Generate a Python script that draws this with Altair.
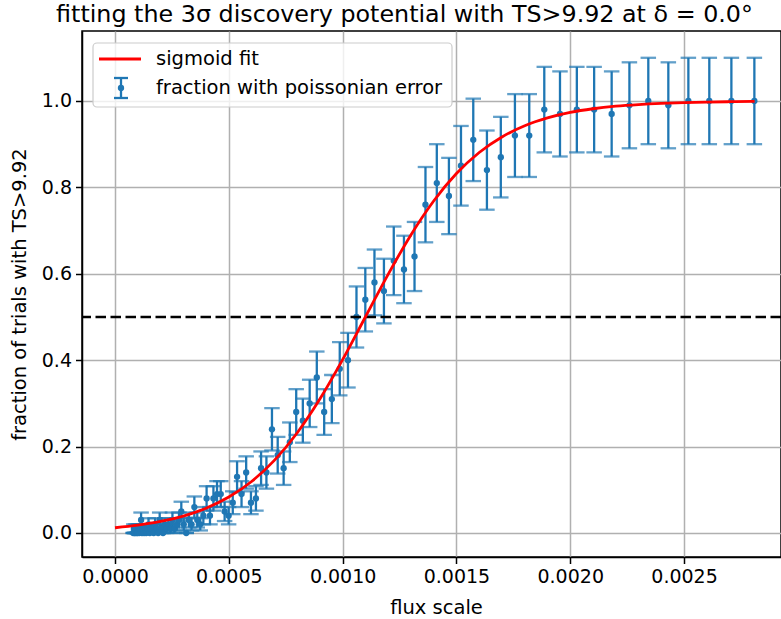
import altair as alt
import pandas as pd
import numpy as np

# ---------------- data ----------------
flux = [0.0000800, 0.0000829, 0.0000860, 0.0000891, 0.0000924, 0.0000957, 0.0000992, 0.0001029, 0.0001066, 0.0001105,
        0.0001146, 0.0001187, 0.0001231, 0.0001276, 0.0001322, 0.0001371, 0.0001421, 0.0001473, 0.0001527, 0.0001582,
        0.0001640, 0.0001700, 0.0001762, 0.0001827, 0.0001894, 0.0001963, 0.0002035, 0.0002109, 0.0002186, 0.0002266,
        0.0002349, 0.0002435, 0.0002524, 0.0002616, 0.0002711, 0.0002811, 0.0002913, 0.0003020, 0.0003130, 0.0003245,
        0.0003363, 0.0003486, 0.0003614, 0.0003746, 0.0003882, 0.0004024, 0.0004172, 0.0004324, 0.0004482, 0.0004646,
        0.0004816, 0.0004992, 0.0005174, 0.0005363, 0.0005559, 0.0005763, 0.0005973, 0.0006192, 0.0006418, 0.0006652,
        0.0006896, 0.0007148, 0.0007409, 0.0007680, 0.0007961, 0.0008252, 0.0008553, 0.0008866, 0.0009190, 0.0009526,
        0.0009874, 0.0010235, 0.0010609, 0.0010997, 0.0011399, 0.0011815, 0.0012247, 0.0012695, 0.0013159, 0.0013640,
        0.0014138, 0.0014670, 0.0015200, 0.0015740, 0.0016340, 0.0016950, 0.0017570, 0.0018200, 0.0018860, 0.0019550,
        0.0020290, 0.0021050, 0.0021820, 0.0022600, 0.0023430, 0.0024310, 0.0025190, 0.0026110, 0.0027080, 0.0028090]

frac = [0.00, 0.01, 0.00, 0.00, 0.01, 0.00, 0.00, 0.01, 0.00, 0.01,
        0.03, 0.00, 0.01, 0.00, 0.01, 0.00, 0.01, 0.02, 0.00, 0.01,
        0.01, 0.00, 0.02, 0.01, 0.00, 0.03, 0.01, 0.00, 0.02, 0.01,
        0.02, 0.01, 0.03, 0.01, 0.02, 0.03, 0.05, 0.02, 0.00, 0.03,
        0.02, 0.06, 0.03, 0.02, 0.04, 0.08, 0.04, 0.08, 0.09, 0.09,
        0.05, 0.04, 0.07, 0.13, 0.09, 0.14, 0.07, 0.08, 0.15, 0.14,
        0.24, 0.18, 0.15, 0.21, 0.28, 0.26, 0.30, 0.36, 0.28, 0.31,
        0.38, 0.40, 0.50, 0.54, 0.58, 0.56, 0.63, 0.61, 0.64, 0.76,
        0.81, 0.78, 0.85, 0.91, 0.84, 0.87, 0.92, 0.92, 0.98, 0.97,
        0.98, 0.98, 0.97, 0.99, 1.00, 0.99, 1.00, 1.00, 1.00, 1.00]

N_TRIALS = 100  # poissonian error = sqrt(n) / N

fit_x = [0.0000, 0.0001, 0.0002, 0.0003, 0.0004, 0.0005, 0.0006, 0.0007, 0.0008, 0.0009,
         0.0010, 0.0011, 0.0012, 0.0013, 0.0014, 0.0015, 0.0016, 0.0017, 0.0018, 0.0019,
         0.0020, 0.0021, 0.0022, 0.0023, 0.0024, 0.0025, 0.0026, 0.0027, 0.0028, 0.00281]
fit_y = [0.0121, 0.0180, 0.0266, 0.0392, 0.0573, 0.0832, 0.1192, 0.1680, 0.2315, 0.3100,
         0.4013, 0.5000, 0.5987, 0.6900, 0.7685, 0.8320, 0.8808, 0.9168, 0.9427, 0.9608,
         0.9734, 0.9820, 0.9879, 0.9918, 0.9945, 0.9963, 0.9975, 0.9983, 0.9989, 0.9989]

threshold = [0.5]

title_text = "fitting the 3σ discovery potential with TS>9.92 at δ = 0.0°"
x_title = "flux scale"
y_title = "fraction of trials with TS>9.92"
legend_labels = ["sigmoid fit", "fraction with poissonian error"]
x_ticks = [0.0, 0.0005, 0.0010, 0.0015, 0.0020, 0.0025]
y_ticks = [0.0, 0.2, 0.4, 0.6, 0.8, 1.0]

# ---------------- build ----------------
df = pd.DataFrame({"flux": flux, "frac": frac})
df["err"] = np.sqrt(df["frac"] * N_TRIALS) / N_TRIALS
df["lo"] = df["frac"] - df["err"]
df["hi"] = df["frac"] + df["err"]
fit_df = pd.DataFrame({"x": fit_x, "y": fit_y})
one = pd.DataFrame({"a": [0]})

BLUE = "#1f77b4"
RED = "#ff0000"
FONT = "DejaVu Sans"
FS = 19.5
EW = 2.3     # error bar line width
W, H = 699, 526
xs = alt.Scale(domain=[-0.000145, 0.002926], nice=False, zero=False)
ys = alt.Scale(domain=[-0.0556, 1.162], nice=False, zero=False)

x_axis = alt.Axis(values=x_ticks, format=".4f", title=x_title, grid=True,
                  titleX=354, titleY=50, titleBaseline="middle")
y_axis = alt.Axis(values=y_ticks, format=".1f", title=y_title, grid=True,
                  titleX=-63, titleY=H / 2, titleBaseline="middle", titleAngle=270)


def X(field):
    return alt.X(field, type="quantitative", scale=xs, axis=x_axis)


def Y(field):
    return alt.Y(field, type="quantitative", scale=ys, axis=y_axis)


bars = alt.Chart(df).mark_rule(color=BLUE, strokeWidth=EW).encode(
    x=X("flux"), y=Y("lo"), y2="hi:Q",
)
caps_lo = alt.Chart(df).mark_tick(color=BLUE, orient="horizontal", size=15.5, thickness=EW).encode(
    x=X("flux"), y=Y("lo"),
)
caps_hi = alt.Chart(df).mark_tick(color=BLUE, orient="horizontal", size=15.5, thickness=EW).encode(
    x=X("flux"), y=Y("hi"),
)
points = alt.Chart(df).mark_circle(color=BLUE, size=40, opacity=1).encode(
    x=X("flux"), y=Y("frac"),
)
dashed = alt.Chart(pd.DataFrame({"t": threshold})).mark_rule(
    color="black", strokeWidth=2.5, strokeDash=[10.5, 4.5]
).encode(y=Y("t"))

fit_line = alt.Chart(fit_df).mark_line(color=RED, strokeWidth=2.8, interpolate="monotone").encode(
    x=X("x"), y=Y("y"),
)

# ---------------- legend (drawn in pixel space) ----------------
leg_box = alt.Chart(one).mark_rect(
    fill="white", fillOpacity=0.8, stroke="#cccccc", strokeWidth=1.2, cornerRadius=4
).encode(x=alt.value(11), x2=alt.value(370), y=alt.value(12), y2=alt.value(76))
leg_line = alt.Chart(one).mark_rule(color=RED, strokeWidth=2.8).encode(
    x=alt.value(17), x2=alt.value(59), y=alt.value(28))
leg_txt1 = alt.Chart(one).mark_text(
    align="left", baseline="middle", font=FONT, fontSize=FS, color="black"
).encode(x=alt.value(74), y=alt.value(28), text=alt.value(legend_labels[0]))
leg_bar = alt.Chart(one).mark_rule(color=BLUE, strokeWidth=EW).encode(
    x=alt.value(39), y=alt.value(47), y2=alt.value(67))
leg_cap1 = alt.Chart(one).mark_rule(color=BLUE, strokeWidth=EW).encode(
    x=alt.value(32), x2=alt.value(46), y=alt.value(47))
leg_cap2 = alt.Chart(one).mark_rule(color=BLUE, strokeWidth=EW).encode(
    x=alt.value(32), x2=alt.value(46), y=alt.value(67))
leg_dot = alt.Chart(one).mark_circle(color=BLUE, size=40, opacity=1).encode(
    x=alt.value(39), y=alt.value(57))
leg_txt2 = alt.Chart(one).mark_text(
    align="left", baseline="middle", font=FONT, fontSize=FS, color="black"
).encode(x=alt.value(74), y=alt.value(57), text=alt.value(legend_labels[1]))

chart = alt.layer(
    bars, caps_lo, caps_hi, points, dashed, fit_line,
    leg_box, leg_line, leg_txt1, leg_bar, leg_cap1, leg_cap2, leg_dot, leg_txt2,
).properties(
    width=W, height=H,
    title=alt.TitleParams(text=title_text, font=FONT, fontSize=23.8, fontWeight="normal",
                          color="black", anchor="middle", dx=-27, offset=4.5),
    autosize=alt.AutoSizeParams(type="none"),
    padding={"left": 82, "top": 31, "right": 0, "bottom": 62},
).configure_view(
    stroke="black", strokeWidth=1.5
).configure_axis(
    labelFont=FONT, labelFontSize=19, labelColor="black", labelPadding=4,
    titleFont=FONT, titleFontSize=FS, titleColor="black", titleFontWeight="normal",
    domainColor="black", domainWidth=1.5, tickColor="black", tickWidth=1.5, tickSize=6.5,
    gridColor="#b0b0b0", gridWidth=1.5,
)

chart.save("out.html", embed_options={"renderer": "svg", "actions": False})
